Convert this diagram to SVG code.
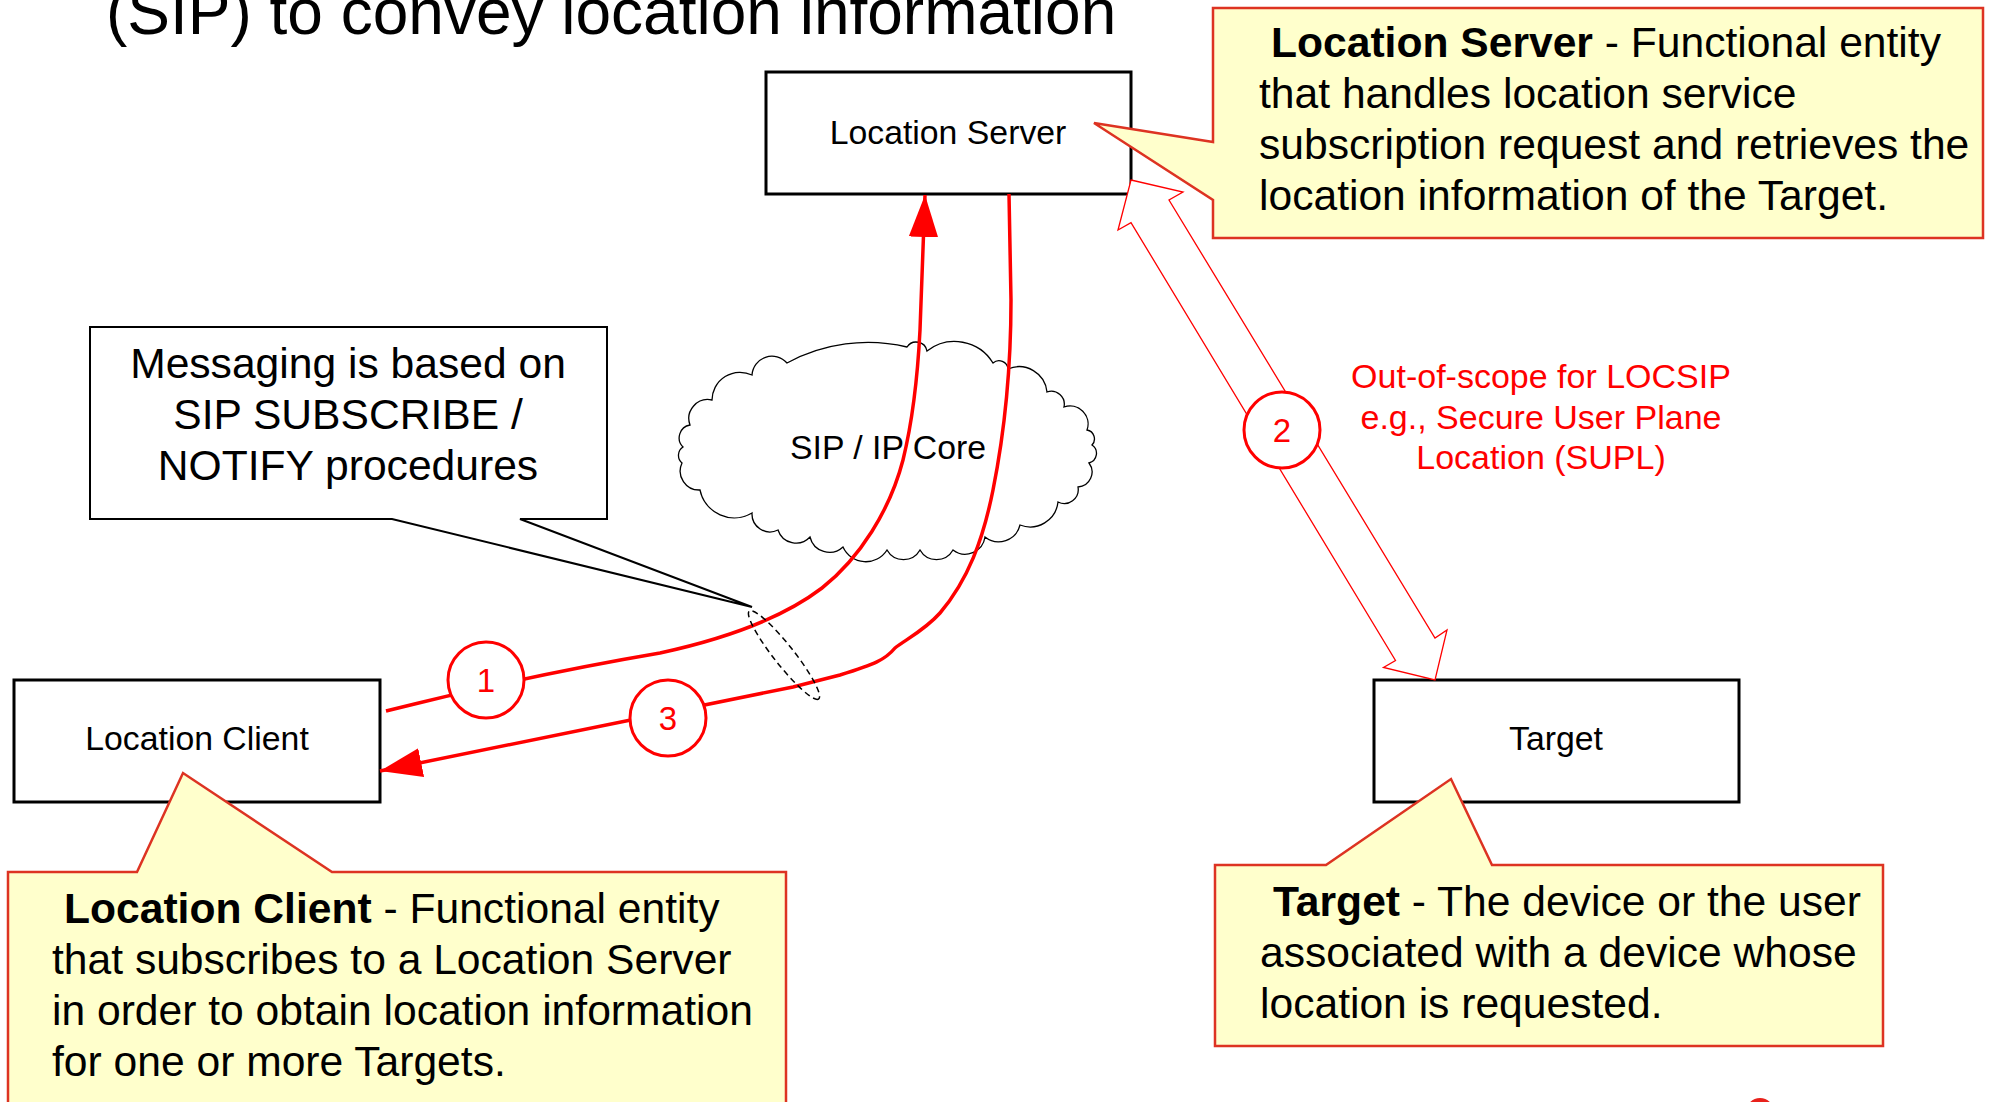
<svg xmlns="http://www.w3.org/2000/svg" width="1990" height="1102" viewBox="0 0 1990 1102">
<defs>
<style>
text{font-family:"Liberation Sans",Arial,sans-serif;fill:#000}
.node{fill:#fff;stroke:#000;stroke-width:3}
.nlabel{font-size:33.8px;text-anchor:middle}
.callout{fill:#FFFFCC;stroke:#DD3322;stroke-width:2.5;stroke-linejoin:miter}
.ctext{font-size:42.6px}
.msg{fill:#fff;stroke:#000;stroke-width:2}
.flow{fill:none;stroke:#FF0000;stroke-width:3.5}
.num{fill:#fff;stroke:#FF0000;stroke-width:3}
.numt{font-size:33px;fill:#FF0000;text-anchor:middle}
.red{fill:#FF0000;font-size:34px;text-anchor:middle}
</style>
<marker id="ah" markerUnits="userSpaceOnUse" markerWidth="42" markerHeight="30" viewBox="0 0 40 28" refX="40" refY="14" orient="auto">
<path d="M0,0 L40,14 L0,28 Z" fill="#FF0000"/>
</marker>
</defs>
<rect width="1990" height="1102" fill="#fff"/>

<g id="title">
<text x="106" y="34" font-size="64">(SIP) to convey location information</text>
</g>

<g id="node-location-server">
<rect class="node" x="766" y="72" width="365" height="122"/>
<text class="nlabel" x="948" y="144">Location Server</text>
</g>

<g id="node-location-client">
<rect class="node" x="14" y="680" width="366" height="122"/>
<text class="nlabel" x="197" y="750">Location Client</text>
</g>

<g id="node-target">
<rect class="node" x="1374" y="680" width="365" height="122"/>
<text class="nlabel" x="1556" y="750">Target</text>
</g>

<g id="node-cloud">
<path fill="#fff" stroke="#000" stroke-width="1.3" d="M752,375 A20,20 0 0 1 787,363 A170,170 0 0 1 907,347 A11,11 0 0 1 927,351 A45,45 0 0 1 993,363 A9,9 0 0 1 1008,369 A28,28 0 0 1 1047,392 A13,13 0 0 1 1064,407 A18,18 0 0 1 1087,430 A9,9 0 0 1 1092,445 A10,10 0 0 1 1089,463 A15,15 0 0 1 1078,487 A14,14 0 0 1 1058,502 A28,28 0 0 1 1020,525 A22,22 0 0 1 985,537 A20,20 0 0 1 953,550 A19,19 0 0 1 920,550 A19,19 0 0 1 887,550 A25,25 0 0 1 843,547 A20,20 0 0 1 810,537 A19,19 0 0 1 778,530 A18,18 0 0 1 752,513 A35,35 0 0 1 700,490 A19,19 0 0 1 682,463 A10,10 0 0 1 683,447 A13,13 0 0 1 690,425 A19,19 0 0 1 712,400 A28,28 0 0 1 752,375 Z"/>
<text class="nlabel" x="888" y="459">SIP / IP Core</text>
</g>

<g id="connectors">
<path id="flow-1" class="flow" marker-end="url(#ah)" d="M386,711 C470,690 560,670 660,653 C720,640 780,620 822,588 C860,558 890,510 903,460 C914,415 918,370 920,330 L925,195"/>
<path id="flow-3" class="flow" marker-end="url(#ah)" d="M1009,194 L1011,300 C1011,380 1003,440 993,490 C983,540 968,580 940,613 C925,630 905,640 895,648 C885,660 875,664 840,675 L793,687 L380,771"/>
<polygon id="flow-2" fill="#fff" stroke="#FF0000" stroke-width="1.3" stroke-linejoin="miter" points="1131,180 1183,192 1169,200 1435,638 1447,630 1435,680 1383.5,667.5 1395.5,660.5 1131,222.6 1118,230"/>
<ellipse cx="784" cy="655" rx="56" ry="10" transform="rotate(51.7 784 655)" fill="none" stroke="#000" stroke-width="1.5" stroke-dasharray="6 4"/>
</g>

<g id="step-1">
<circle class="num" cx="486" cy="680" r="38"/>
<text class="numt" x="486" y="692">1</text>
</g>
<g id="step-2">
<circle class="num" cx="1282" cy="430" r="38"/>
<text class="numt" x="1282" y="442">2</text>
</g>
<g id="step-3">
<circle class="num" cx="668" cy="718" r="38"/>
<text class="numt" x="668" y="730">3</text>
</g>

<g id="label-out-of-scope">
<text class="red" x="1541" y="388">Out-of-scope for LOCSIP</text>
<text class="red" x="1541" y="429">e.g., Secure User Plane</text>
<text class="red" x="1541" y="469">Location (SUPL)</text>
</g>

<g id="callout-messaging">
<path class="msg" d="M90,327 L607,327 L607,519 L520,519 L752,607 L392,519 L90,519 Z"/>
<text font-size="42.6" text-anchor="middle" x="348" y="378">Messaging is based on</text>
<text font-size="42.6" text-anchor="middle" x="348" y="429">SIP SUBSCRIBE /</text>
<text font-size="42.6" text-anchor="middle" x="348" y="480">NOTIFY procedures</text>
</g>

<g id="callout-location-server">
<path class="callout" d="M1213,8 L1983,8 L1983,238 L1213,238 L1213,200 L1094,123 L1213,142 Z"/>
<text class="ctext" x="1271" y="57"><tspan font-weight="bold">Location Server</tspan> - Functional entity</text>
<text class="ctext" x="1259" y="108">that handles location service</text>
<text class="ctext" x="1259" y="159">subscription request and retrieves the</text>
<text class="ctext" x="1259" y="210">location information of the Target.</text>
</g>

<g id="callout-location-client">
<path class="callout" d="M8,872 L137,872 L183,773 L332,872 L786,872 L786,1115 L8,1115 Z"/>
<text class="ctext" x="64" y="923"><tspan font-weight="bold">Location Client</tspan> - Functional entity</text>
<text class="ctext" x="52" y="974">that subscribes to a Location Server</text>
<text class="ctext" x="52" y="1025">in order to obtain location information</text>
<text class="ctext" x="52" y="1076">for one or more Targets.</text>
</g>

<g id="callout-target">
<path class="callout" d="M1215,865 L1326,865 L1451,779 L1492,865 L1883,865 L1883,1046 L1215,1046 Z"/>
<text class="ctext" x="1273" y="916"><tspan font-weight="bold">Target</tspan> - The device or the user</text>
<text class="ctext" x="1260" y="967">associated with a device whose</text>
<text class="ctext" x="1260" y="1018">location is requested.</text>
</g>

<ellipse cx="1760" cy="1112" rx="14" ry="14" fill="#E8211B"/>
</svg>
